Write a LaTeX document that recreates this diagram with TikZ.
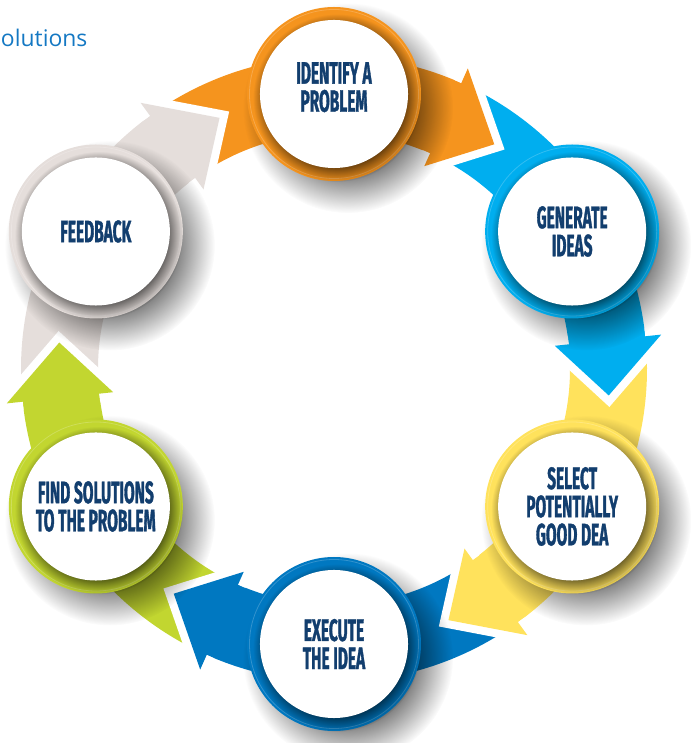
\documentclass[tikz,border=0pt]{standalone}
\usepackage{fontspec}
\usepackage{tikz}
\usetikzlibrary{positioning, calc, fadings}
\newfontfamily\cyclefont[FakeStretch=0.5, FakeBold=1]{Fira Sans}
\newfontfamily\headfont{Open Sans}

\definecolor{idorange}{RGB}{245,148,30}
\definecolor{genblue}{RGB}{0,174,239}
\definecolor{selyellow}{RGB}{255,226,92}
\definecolor{exeblue}{RGB}{0,120,193}
\definecolor{findgreen}{RGB}{194,214,48}
\definecolor{feedgrey}{RGB}{229,222,219}
\definecolor{steptext}{RGB}{18,62,110}
\definecolor{headblue}{RGB}{20,120,195}

\pgfdeclarelayer{back}
\pgfdeclarelayer{mid}
\pgfsetlayers{back,mid,main}

% soft shadow under the discs
\pgfdeclareradialshading{softshadow}{\pgfpointorigin}{color(0bp)=(white); color(14bp)=(white); color(25bp)=(black); color(50bp)=(black)}
\pgfdeclarefading{softshadow}{\pgfuseshading{softshadow}}
% shadow of the white disc on its ring
\pgfdeclareradialshading{rimshadow}{\pgfpointorigin}{color(0bp)=(white); color(20bp)=(white); color(25bp)=(black); color(50bp)=(black)}
\pgfdeclarefading{rimshadow}{\pgfuseshading{rimshadow}}

\tikzset{
    %Define style for the white discs
    stepdisk/.style={
           circle,
           fill=white,
           minimum size=3.7cm,
           inner sep=0pt,
           align=center,
           text=steptext,
           font=\cyclefont\bfseries\fontsize{22}{20}\selectfont},
%
    dropshadow/.style={
           fill=black,
           opacity=.6,
           path fading=softshadow},
%
    innershadow/.style={
           fill=black,
           opacity=.6,
           path fading=rimshadow},
%
    % Define style for the white gap round a head
    headgap/.style={
           draw=white,
           line width=0.4cm,
           line join=miter}
}

\begin{document}
\begin{tikzpicture}[x=0.025cm, y=0.025cm]
  \useasboundingbox (0,0) rectangle (691,743);
  \coordinate (hub) at (334,374);

  \node[stepdisk] (identify) at ([shift={(90:275)}]hub) {IDENTIFY A\\PROBLEM\\[-10pt]\mbox{}};
  \node[stepdisk] (generate) at ([shift={(30:275)}]hub) {GENERATE\\IDEAS};
  \node[stepdisk] (select) at ([shift={(-30:275)}]hub) {SELECT\\POTENTIALLY\\GOOD DEA};
  \node[stepdisk] (execute) at ([shift={(-90:275)}]hub) {EXECUTE\\THE IDEA};
  \node[stepdisk] (find) at ([shift={(210:275)}]hub) {FIND SOLUTIONS\\TO THE PROBLEM};
  \node[stepdisk] (feedback) at ([shift={(150:275)}]hub) {FEEDBACK};

  \node[anchor=base west, text=headblue, font=\headfont\fontsize{16.3}{18}\selectfont] (heading) at (-4,696) {olutions};

  % curved arrows behind the discs
  \begin{pgfonlayer}{back}
  \foreach \a/\col in {90/idorange, 30/genblue, -30/selyellow, -90/exeblue, 210/findgreen, 150/feedgrey}{
    \fill[\col] ([shift={(\a+34:313)}]hub) arc[start angle=\a+34, end angle=\a-25, radius=313]
      -- ([shift={(\a-25:236)}]hub) arc[start angle=\a-25, end angle=\a+34, radius=236] -- cycle;
  }
  \foreach \a/\col in {90/idorange, 30/genblue, -30/selyellow, -90/exeblue, 210/findgreen, 150/feedgrey}{
    \draw[headgap] ([shift={(\a-24:313)}]hub) -- ([shift={(\a-24:329)}]hub)
      -- ([shift={(\a-35.5:276)}]hub) -- ([shift={(\a-24:222)}]hub) -- ([shift={(\a-24:236)}]hub);
    \fill[\col] ([shift={(\a-24:329)}]hub) -- ([shift={(\a-35.5:276)}]hub)
      -- ([shift={(\a-24:222)}]hub) -- cycle;
  }
  \end{pgfonlayer}

  % rings and shadows
  \begin{pgfonlayer}{mid}
  \foreach \n/\col in {identify/idorange, generate/genblue, select/selyellow, execute/exeblue, find/findgreen, feedback/feedgrey}{
    \fill[dropshadow] ([shift={(14,-14)}]\n.center) circle (105);
    \fill[\col] (\n) circle (87);
    \draw[\col!80!white, line width=0.02cm] (\n) circle (84.5);
    \fill[innershadow] ([shift={(3,-4)}]\n.center) circle (84);
  }
  \end{pgfonlayer}
\end{tikzpicture}
\end{document}
